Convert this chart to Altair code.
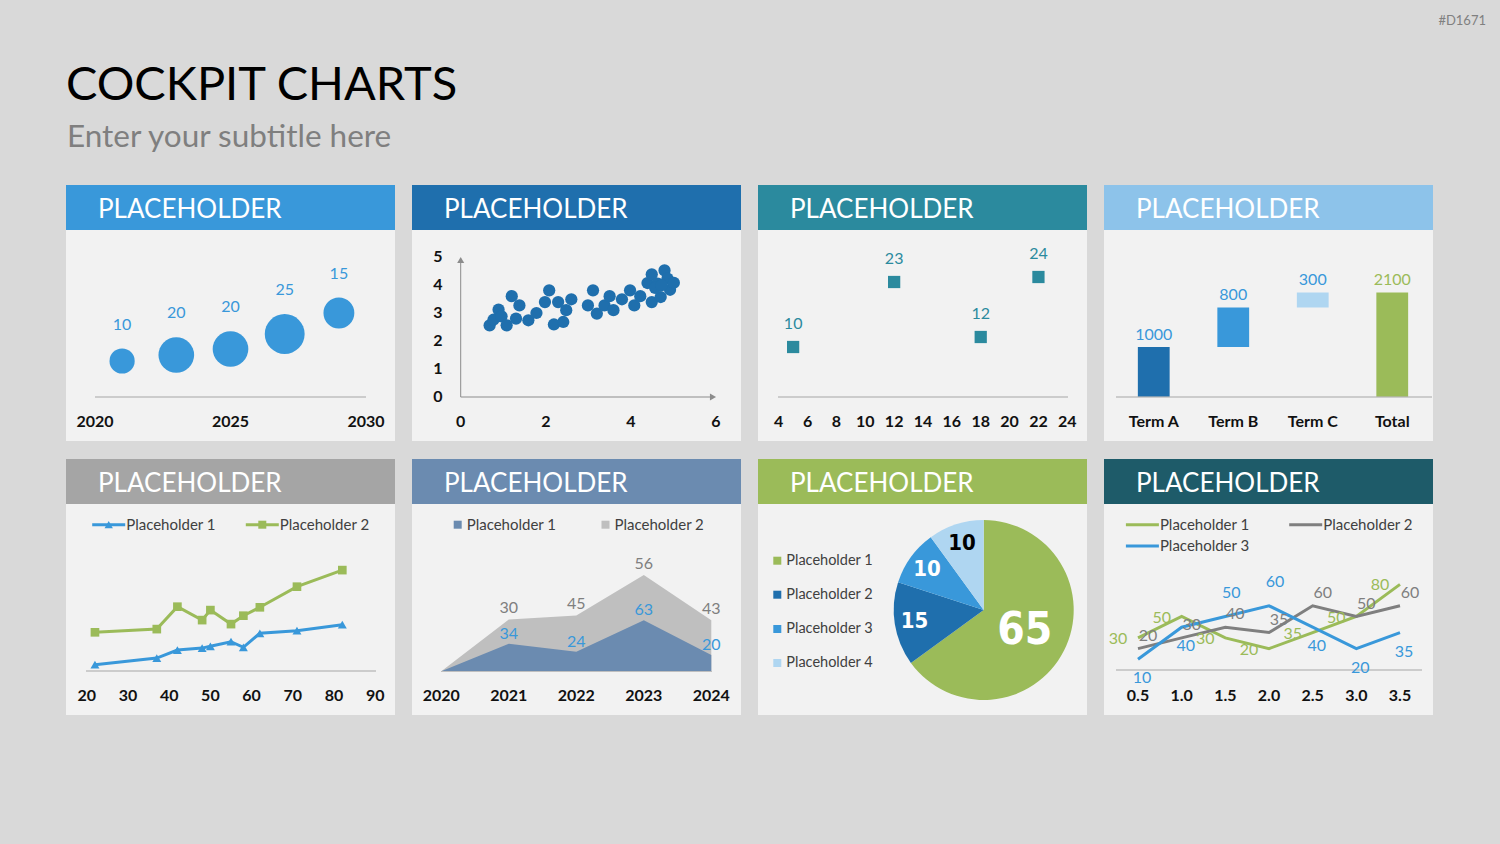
import altair as alt
import pandas as pd

FONT = "Lato, 'Open Sans', sans-serif"
COND = "'DejaVu Sans Condensed', 'DejaVu Sans', sans-serif"

# ---------------- data ----------------
bubble_years = [2021, 2023, 2025, 2027, 2029]
bubble_values = [10, 20, 20, 25, 15]
bubble_levels = [1.2, 1.4, 1.6, 2.1, 2.8]
bubble_ticks = [2020, 2025, 2030]

scatter_x = [0.68, 0.77, 0.89, 0.96, 1.08, 1.20, 1.30, 1.38, 1.59, 1.78, 1.98, 2.08, 2.19,
             2.29, 2.41, 2.48, 2.60, 2.99, 3.11, 3.20, 3.38, 3.50, 3.59, 3.79, 3.98, 4.08,
             4.22, 4.39, 4.49, 4.49, 4.63, 4.70, 4.79, 4.86, 4.92, 5.01, 4.57, 4.72]
scatter_y = [2.56, 2.76, 3.12, 2.88, 2.56, 3.60, 2.80, 3.27, 2.74, 3.00, 3.39, 3.81, 2.59,
             3.39, 2.68, 3.10, 3.49, 3.27, 3.81, 2.98, 3.27, 3.60, 3.10, 3.49, 3.81, 3.27,
             3.60, 4.07, 3.39, 4.38, 4.05, 3.57, 4.52, 4.23, 3.83, 4.08, 3.90, 3.99]
scatter_xticks = [0, 2, 4, 6]
scatter_yticks = [0, 1, 2, 3, 4, 5]

square_x = [5, 12, 18, 22]
square_values = [10, 23, 12, 24]
square_ticks = [4, 6, 8, 10, 12, 14, 16, 18, 20, 22, 24]

terms = ["Term A", "Term B", "Term C", "Total"]
term_values = [1000, 800, 300, 2100]

line_x = [22, 37, 42, 48, 50, 55, 58, 62, 71, 82]
line_p1 = [3, 6.3, 10.3, 11.3, 12.2, 14.5, 11.7, 18.7, 20, 23]
line_p2 = [19.2, 20.8, 32, 25.3, 30.3, 23.3, 27.5, 31.7, 42, 50.3]
line_ticks = [20, 30, 40, 50, 60, 70, 80, 90]

area_years = [2020, 2021, 2022, 2023, 2024]
area_p1 = [0, 34, 24, 63, 20]
area_p2 = [0, 30, 45, 56, 43]

pie_names = ["Placeholder 1", "Placeholder 2", "Placeholder 3", "Placeholder 4"]
pie_values = [65, 15, 10, 10]

multi_x = [0.5, 1.0, 1.5, 2.0, 2.5, 3.0, 3.5]
multi_p1 = [30, 50, 30, 20, 35, 50, 80]
multi_p2 = [20, 30, 40, 35, 60, 50, 60]
multi_p3 = [10, 40, 50, 60, 40, 20, 35]

# ---------------- styles ----------------
BG = "#D9D9D9"
BODY = "#F2F2F2"
BLUE = "#3998DA"
DARK = "#1F6FAD"
TEAL = "#2B8A9E"
LIGHT_H = "#8DC3EA"
LIGHT = "#AFD6F1"
GREY_H = "#A5A5A5"
STEEL = "#6B8BB0"
GREEN = "#9BBB59"
DTEAL = "#1E5B69"
AX = "#111111"
LEG = "#404040"
RULE = "#A6A6A6"

ONE = pd.DataFrame({"k": [0]})


def lin(domain, rng):
    return alt.Scale(domain=domain, range=rng, nice=False, zero=False)


def text_at(txt, x, y, size, color, weight="normal", align="left",
            baseline="alphabetic", font=FONT):
    return alt.Chart(ONE).mark_text(
        text=txt, align=align, baseline=baseline, fontSize=size, font=font,
        fontWeight=weight, color=color
    ).encode(x=alt.value(x), y=alt.value(y))


def rect_at(x0, y0, x1, y1, color):
    return alt.Chart(ONE).mark_rect(color=color).encode(
        x=alt.value(x0), x2=alt.value(x1), y=alt.value(y0), y2=alt.value(y1))


def hrule(x0, x1, y, color=RULE, width=1):
    return alt.Chart(ONE).mark_rule(color=color, strokeWidth=width).encode(
        x=alt.value(x0), x2=alt.value(x1), y=alt.value(y))


def vrule(x, y0, y1, color=RULE, width=1):
    return alt.Chart(ONE).mark_rule(color=color, strokeWidth=width).encode(
        x=alt.value(x), y=alt.value(y0), y2=alt.value(y1))


def legend_line(cx, cy, color, label, marker=None):
    out = [hrule(cx - 16.5, cx + 16.5, cy, color=color, width=3)]
    if marker == "triangle":
        out.append(alt.Chart(ONE).mark_point(shape="triangle-up", filled=True, size=70,
                                             color=color, opacity=1)
                   .encode(x=alt.value(cx), y=alt.value(cy)))
    elif marker == "square":
        out.append(alt.Chart(ONE).mark_square(size=64, color=color, opacity=1)
                   .encode(x=alt.value(cx), y=alt.value(cy)))
    out.append(text_at(label, cx + 17.5, cy, 15, LEG, baseline="middle"))
    return out


def legend_square(cx, cy, color, label, size=15):
    return [
        alt.Chart(ONE).mark_square(size=64, color=color, opacity=1)
        .encode(x=alt.value(cx), y=alt.value(cy)),
        text_at(label, cx + 9, cy, size, LEG, baseline="middle"),
    ]


def tick_labels(values, scale, y, fmt=None):
    df = pd.DataFrame({"t": values})
    txt = alt.Text("t:Q", format=fmt) if fmt else alt.Text("t:Q")
    return alt.Chart(df).mark_text(
        font=FONT, fontSize=16, fontWeight="bold", color=AX, baseline="alphabetic"
    ).encode(x=alt.X("t:Q", scale=scale, axis=None), y=alt.value(y), text=txt)


layers = []

# ---------------- page header ----------------
layers.append(text_at("COCKPIT CHARTS", 66, 100, 47, "#000000"))
layers.append(text_at("Enter your subtitle here", 67, 147, 31.5, "#7F7F7F"))
layers.append(text_at("#D1671", 1486, 25, 13, "#808080", align="right"))

# ---------------- panel frames ----------------
cols = [66, 412, 758, 1104]
rows = [185, 459]
head_colors = [BLUE, DARK, TEAL, LIGHT_H, GREY_H, STEEL, GREEN, DTEAL]
for i, hc in enumerate(head_colors):
    x0 = cols[i % 4]
    y0 = rows[i // 4]
    layers.append(rect_at(x0, y0 + 45, x0 + 329, y0 + 256, BODY))
    layers.append(rect_at(x0, y0, x0 + 329, y0 + 45, hc))
    layers.append(text_at("PLACEHOLDER", x0 + 32, y0 + 33, 26, "#FFFFFF"))

# ---------------- panel 1: bubbles ----------------
X1 = lin([2020, 2030], [95, 366])
Y1 = lin([0, 4], [397, 277])
b_df = pd.DataFrame({"year": bubble_years, "value": bubble_values, "level": bubble_levels})
layers.append(hrule(95, 366, 397))
layers.append(alt.Chart(b_df).mark_circle(color=BLUE, opacity=1).encode(
    x=alt.X("year:Q", scale=X1, axis=None),
    y=alt.Y("level:Q", scale=Y1, axis=None),
    size=alt.Size("value:Q", scale=alt.Scale(domain=[0, 25], range=[0, 1590], zero=True),
                  legend=None)))
layers.append(alt.Chart(b_df).transform_calculate(
    lab="datum.level + 0.15 * sqrt(datum.value)"
).mark_text(font=FONT, fontSize=16, color=BLUE, baseline="middle", dy=-21.5).encode(
    x=alt.X("year:Q", scale=X1, axis=None),
    y=alt.Y("lab:Q", scale=Y1, axis=None),
    text="value:Q"))
layers.append(tick_labels(bubble_ticks, X1, 427))

# ---------------- panel 2: scatter ----------------
X2 = lin([0, 6], [460.7, 716])
Y2 = lin([0, 5], [397, 257])
s_df = pd.DataFrame({"x": scatter_x, "y": scatter_y})
layers.append(hrule(460.7, 710, 397, color="#8C8C8C"))
layers.append(vrule(460.7, 397, 263, color="#8C8C8C"))
layers.append(alt.Chart(ONE).mark_point(shape="triangle-right", filled=True, size=50,
                                        color="#8C8C8C", opacity=1)
              .encode(x=alt.value(713), y=alt.value(397)))
layers.append(alt.Chart(ONE).mark_point(shape="triangle-up", filled=True, size=50,
                                        color="#8C8C8C", opacity=1)
              .encode(x=alt.value(460.7), y=alt.value(260)))
layers.append(alt.Chart(s_df).mark_circle(size=150, color=DARK, opacity=1).encode(
    x=alt.X("x:Q", scale=X2, axis=None), y=alt.Y("y:Q", scale=Y2, axis=None)))
layers.append(tick_labels(scatter_xticks, X2, 427))
layers.append(alt.Chart(pd.DataFrame({"t": scatter_yticks})).mark_text(
    font=FONT, fontSize=16, fontWeight="bold", color=AX, baseline="middle", align="center"
).encode(y=alt.Y("t:Q", scale=Y2, axis=None), x=alt.value(438), text="t:Q"))

# ---------------- panel 3: squares ----------------
X3 = lin([4, 24], [778.7, 1067.3])
Y3 = lin([0, 30], [397, 247])
q_df = pd.DataFrame({"x": square_x, "v": square_values})
layers.append(hrule(778, 1068, 397))
layers.append(alt.Chart(q_df).mark_square(size=150, color=TEAL, opacity=1).encode(
    x=alt.X("x:Q", scale=X3, axis=None), y=alt.Y("v:Q", scale=Y3, axis=None)))
layers.append(alt.Chart(q_df).mark_text(font=FONT, fontSize=16, color=TEAL,
                                        baseline="middle", dy=-23).encode(
    x=alt.X("x:Q", scale=X3, axis=None), y=alt.Y("v:Q", scale=Y3, axis=None), text="v:Q"))
layers.append(tick_labels(square_ticks, X3, 427))

# ---------------- panel 4: waterfall ----------------
starts, ends, run = [], [], 0
for t, v in zip(terms, term_values):
    if t == "Total":
        starts.append(0)
        ends.append(v)
    else:
        starts.append(run)
        ends.append(run + v)
        run += v
w_df = pd.DataFrame({"term": terms, "v": term_values, "start": starts, "end": ends})
XB = alt.Scale(domain=terms, range=[1114, 1432], paddingInner=0.6, paddingOuter=0.3)
YB = lin([0, 2500], [396.7, 272.7])
layers.append(alt.Chart(w_df).mark_bar().encode(
    x=alt.X("term:N", scale=XB, axis=None),
    y=alt.Y("start:Q", scale=YB, axis=None), y2="end:Q",
    color=alt.Color("term:N", scale=alt.Scale(domain=terms, range=[DARK, BLUE, LIGHT, GREEN]),
                    legend=None)))
layers.append(hrule(1116, 1432, 397))
layers.append(alt.Chart(w_df).mark_text(font=FONT, fontSize=16, baseline="middle", dy=-12.5)
              .encode(
    x=alt.X("term:N", scale=XB, axis=None),
    y=alt.Y("end:Q", scale=YB, axis=None), text="v:Q",
    color=alt.Color("term:N", scale=alt.Scale(domain=terms, range=[BLUE, BLUE, BLUE, GREEN]),
                    legend=None)))
layers.append(alt.Chart(w_df).mark_text(font=FONT, fontSize=16, fontWeight="bold", color=AX,
                                        baseline="alphabetic").encode(
    x=alt.X("term:N", scale=XB, axis=None), y=alt.value(427), text="term:N"))

# ---------------- panel 5: lines with markers ----------------
X5 = lin([20, 90], [86.7, 375.3])
Y5 = lin([0, 60], [670.7, 550.7])
l_df = pd.DataFrame({
    "x": line_x * 2,
    "v": line_p1 + line_p2,
    "s": ["Placeholder 1"] * len(line_x) + ["Placeholder 2"] * len(line_x),
})
layers.append(hrule(86, 376, 671))
layers.append(alt.Chart(l_df).mark_line(strokeWidth=3).encode(
    x=alt.X("x:Q", scale=X5, axis=None), y=alt.Y("v:Q", scale=Y5, axis=None),
    color=alt.Color("s:N", scale=alt.Scale(domain=["Placeholder 1", "Placeholder 2"],
                                           range=[BLUE, GREEN]), legend=None)))
layers.append(alt.Chart(l_df).transform_filter("datum.s == 'Placeholder 1'").mark_point(
    shape="triangle-up", filled=True, size=80, color=BLUE, opacity=1).encode(
    x=alt.X("x:Q", scale=X5, axis=None), y=alt.Y("v:Q", scale=Y5, axis=None)))
layers.append(alt.Chart(l_df).transform_filter("datum.s == 'Placeholder 2'").mark_square(
    size=75, color=GREEN, opacity=1).encode(
    x=alt.X("x:Q", scale=X5, axis=None), y=alt.Y("v:Q", scale=Y5, axis=None)))
layers.append(tick_labels(line_ticks, X5, 701))
layers += legend_line(108.7, 524.7, BLUE, "Placeholder 1", marker="triangle")
layers += legend_line(262.3, 524.7, GREEN, "Placeholder 2", marker="square")

# ---------------- panel 6: stacked area ----------------
X6 = lin([2020, 2024], [441.3, 711.3])
Y6 = lin([0, 150], [671.3, 549.8])
a_df = pd.DataFrame({"year": area_years, "p1": area_p1, "p2": area_p2})
a_df["total"] = a_df["p1"] + a_df["p2"]
layers.append(alt.Chart(a_df).mark_area(color="#BFBFBF", opacity=1).encode(
    x=alt.X("year:Q", scale=X6, axis=None),
    y=alt.Y("total:Q", scale=Y6, axis=None), y2=alt.datum(0)))
layers.append(alt.Chart(a_df).mark_area(color=STEEL, opacity=1).encode(
    x=alt.X("year:Q", scale=X6, axis=None),
    y=alt.Y("p1:Q", scale=Y6, axis=None), y2=alt.datum(0)))
layers.append(hrule(441, 712, 671.5, color="#BFBFBF"))
layers.append(alt.Chart(a_df).transform_filter("datum.year > 2020").mark_text(
    font=FONT, fontSize=16, color="#7F7F7F", baseline="middle", dy=-11).encode(
    x=alt.X("year:Q", scale=X6, axis=None),
    y=alt.Y("total:Q", scale=Y6, axis=None), text="p2:Q"))
layers.append(alt.Chart(a_df).transform_filter("datum.year > 2020").mark_text(
    font=FONT, fontSize=16, color=BLUE, baseline="middle", dy=-10).encode(
    x=alt.X("year:Q", scale=X6, axis=None),
    y=alt.Y("p1:Q", scale=Y6, axis=None), text="p1:Q"))
layers.append(tick_labels(area_years, X6, 701))
layers += legend_square(457.7, 524.7, STEEL, "Placeholder 1")
layers += legend_square(605.5, 524.7, "#BFBFBF", "Placeholder 2")

# ---------------- panel 7: pie ----------------
p_df = pd.DataFrame({"name": pie_names, "v": pie_values, "idx": list(range(len(pie_names)))})
PIE_COLORS = [GREEN, DARK, BLUE, LIGHT]
layers.append(alt.Chart(p_df).mark_arc(outerRadius=90).encode(
    theta=alt.Theta("v:Q", stack=True),
    order=alt.Order("idx:Q"),
    color=alt.Color("name:N", scale=alt.Scale(domain=pie_names, range=PIE_COLORS),
                    legend=None),
    x=alt.value(983.7), y=alt.value(610)))
pie_text = alt.Chart(p_df).transform_window(
    cum="sum(v)", sort=[alt.SortField("idx")], frame=[None, 0]
).transform_joinaggregate(
    tot="sum(v)"
).transform_calculate(
    frac="(datum.cum - datum.v / 2) / datum.tot",
    r="datum.v >= 50 ? 46 : 70"
)
layers.append(pie_text.mark_text(font=COND, fontWeight="bold", baseline="middle",
                                 align="center").encode(
    theta=alt.Theta("frac:Q", stack=None,
                    scale=alt.Scale(domain=[0, 1], range=[0, 6.283185307])),
    radius=alt.Radius("r:Q", scale=None),
    text="v:Q",
    size=alt.condition("datum.v >= 50", alt.value(44), alt.value(22)),
    color=alt.condition("datum.name == 'Placeholder 4'", alt.value("#000000"),
                        alt.value("#FFFFFF")),
    x=alt.value(983.7), y=alt.value(610)))
for i, (nm, col) in enumerate(zip(pie_names, PIE_COLORS)):
    layers += legend_square(777.3, [560.7, 594.7, 629, 663][i], col, nm, size=14.5)

# ---------------- panel 8: three lines ----------------
X8 = lin([0.5, 3.5], [1138, 1400])
Y8 = lin([0, 100], [670, 563])
m_names = ["Placeholder 1", "Placeholder 2", "Placeholder 3"]
m_colors = [GREEN, "#7F7F7F", BLUE]
m_df = pd.DataFrame({
    "x": multi_x * 3,
    "v": multi_p1 + multi_p2 + multi_p3,
    "s": [m_names[0]] * 7 + [m_names[1]] * 7 + [m_names[2]] * 7,
})
layers.append(hrule(1116, 1422, 670))
layers.append(alt.Chart(m_df).mark_line(strokeWidth=3).encode(
    x=alt.X("x:Q", scale=X8, axis=None), y=alt.Y("v:Q", scale=Y8, axis=None),
    color=alt.Color("s:N", scale=alt.Scale(domain=m_names, range=m_colors), legend=None)))


def m_labels(flt, col, dx, dy):
    return alt.Chart(m_df).transform_joinaggregate(
        mx="max(v)", groupby=["x"]
    ).transform_filter(flt).mark_text(
        font=FONT, fontSize=16, color=col, baseline="middle", dx=dx, dy=dy).encode(
        x=alt.X("x:Q", scale=X8, axis=None), y=alt.Y("v:Q", scale=Y8, axis=None),
        text="v:Q")


layers.append(m_labels("datum.s == 'Placeholder 1'", GREEN, -20, 1))
layers.append(m_labels("datum.s == 'Placeholder 2'", "#7F7F7F", 10, -13))
layers.append(m_labels("datum.s == 'Placeholder 3' && datum.v >= datum.mx", BLUE, 6, -24))
layers.append(m_labels("datum.s == 'Placeholder 3' && datum.v < datum.mx", BLUE, 4, 19))
layers.append(tick_labels(multi_x, X8, 701, fmt=".1f"))
layers += legend_line(1142.4, 524.7, GREEN, "Placeholder 1")
layers += legend_line(1305.7, 524.7, "#7F7F7F", "Placeholder 2")
layers += legend_line(1142.4, 546, BLUE, "Placeholder 3")

chart = alt.layer(*layers).resolve_scale(
    x="independent", y="independent", color="independent", size="independent",
    theta="independent"
).properties(
    width=1500, height=844, padding=0, autosize="none", background=BG
).configure_view(stroke=None)

chart.save("out.html", embed_options={"renderer": "svg", "actions": False})
